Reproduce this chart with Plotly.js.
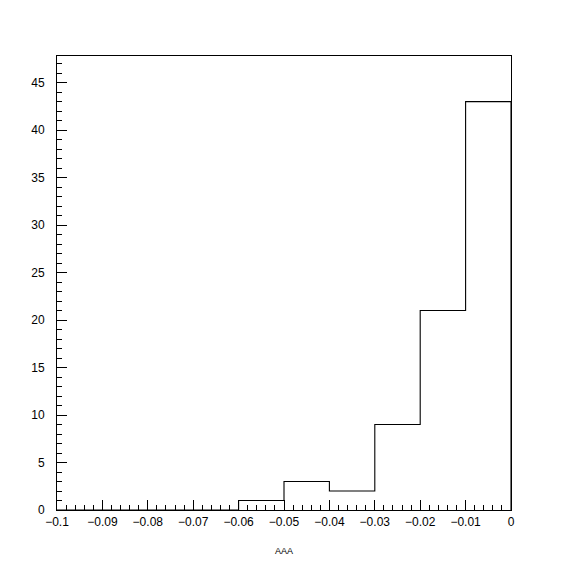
<!DOCTYPE html>
<html>
<head>
<meta charset="utf-8">
<script src="https://cdn.plot.ly/plotly-3.0.1.min.js"></script>
<style>html,body{margin:0;padding:0;background:#fff;}#chart{width:567px;height:567px;}</style>
</head>
<body>
<div id="chart"></div>
<script>
// Histogram data (10 bins from -0.1 to 0)
var binStart = -0.1;
var binWidth = 0.01;
var counts = [0, 0, 0, 0, 1, 3, 2, 9, 21, 43];
var xTitle = "AAA";

// Build step outline from bin edges
var edges = [];
for (var i = 0; i <= counts.length; i++) edges.push(+(binStart + i * binWidth).toFixed(4));
var stepY = counts.concat([0]);

var trace = {
  x: edges,
  y: stepY,
  type: 'scatter',
  mode: 'lines',
  line: {shape: 'hv', color: '#000', width: 1.1},
  hoverinfo: 'skip',
  showlegend: false
};

var font = {family: '"Liberation Sans", Arial, sans-serif', size: 12, color: '#000'};

var layout = {
  width: 567, height: 567,
  margin: {l: 57, r: 56, t: 56, b: 57},
  paper_bgcolor: '#fff', plot_bgcolor: '#fff',
  font: font,
  showlegend: false,
  xaxis: {
    range: [-0.1, 0],
    tick0: -0.1, dtick: 0.01,
    ticks: 'inside', ticklen: 10, tickwidth: 1, tickcolor: '#000',
    minor: {dtick: 0.002, ticks: 'inside', ticklen: 5, tickwidth: 1, tickcolor: '#000', showgrid: false},
    showline: true, linecolor: '#000', linewidth: 1, mirror: true,
    showgrid: false, zeroline: false,
    tickfont: font,
    tickformat: '.2~f',
    ticklabelstandoff: 1,
    title: {text: xTitle, font: {family: font.family, size: 9, color: '#000'}, standoff: 19}
  },
  yaxis: {
    range: [0, 47.8],
    tick0: 0, dtick: 5,
    ticks: 'inside', ticklen: 10, tickwidth: 1, tickcolor: '#000',
    minor: {dtick: 1, ticks: 'inside', ticklen: 5, tickwidth: 1, tickcolor: '#000', showgrid: false},
    showline: true, linecolor: '#000', linewidth: 1, mirror: true,
    showgrid: false, zeroline: false,
    ticklabelstandoff: 9,
    tickfont: font
  }
};

Plotly.newPlot('chart', [trace], layout, {staticPlot: true, displayModeBar: false});
</script>
</body>
</html>
